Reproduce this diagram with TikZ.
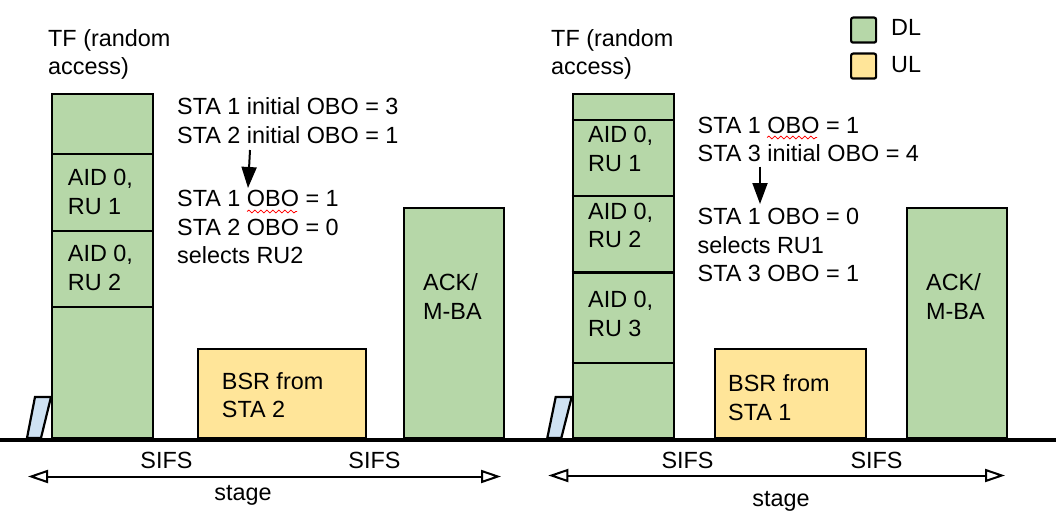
\documentclass[tikz,border=0pt]{standalone}
\usepackage{fontspec}
\setmainfont{Liberation Sans}
\usetikzlibrary{arrows.meta,decorations.pathmorphing}
\definecolor{dlgreen}{HTML}{B6D7A8}
\definecolor{ulyellow}{HTML}{FFE599}
\definecolor{tfblue}{HTML}{CFE2F3}

\begin{document}
\begin{tikzpicture}[x=1pt, y=-1pt,
	lbl/.style={font=\fontsize{23.4}{28.5}\selectfont, inner sep=0pt, align=left, anchor=base west},
	mid/.style={font=\fontsize{23.4}{28.5}\selectfont, inner sep=0pt, anchor=base},
	dlbox/.style={draw, line width=2.2pt, fill=dlgreen, inner sep=0pt, anchor=south west},
	ulbox/.style={draw, line width=2.2pt, fill=ulyellow, inner sep=0pt, anchor=south west},
	wavy/.style={red, line width=0.8pt, decorate, decoration={snake, amplitude=1.4pt, segment length=6pt}},
	stagearrow/.style={{Triangle[open,length=20pt,width=13pt]}-{Triangle[open,length=20pt,width=13pt]}, line width=2pt}]
	\useasboundingbox (0,0) rectangle (1062,516);
	% first stage (multi-line labels sit on the baseline of their last line)
	\draw[line width=2.2pt, fill=tfblue] (27,438) -- (35,397) -- (51,397) -- (41,438) -- cycle;
	\node[dlbox, minimum width=101pt, minimum height=344pt] (tfa) at (51,439) {};
	\foreach \y in {154,231,307}
		\draw[line width=2.2pt] (tfa.west |- 0,\y) -- (tfa.east |- 0,\y);
	\node[lbl] (tftxta) at (48,75) {TF (random\\access)};
	\node[lbl] (rua1) at (67.7,214) {AID 0,\\RU 1};
	\node[lbl] (rua2) at (67.7,290) {AID 0,\\RU 2};
	\node[ulbox, minimum width=168pt, minimum height=89pt] (bsra) at (197,439) {};
	\node[lbl] (bsrtxta) at (221.7,417.5) {BSR from\\STA 2};
	\node[dlbox, minimum width=100pt, minimum height=230pt] (acka) at (403,439) {};
	\node[lbl] (acktxta) at (423,319) {ACK/\\M-BA};
	\node[lbl] (oboa1) at (177,143.5) {STA 1 initial OBO = 3\\STA 2 initial OBO = 1};
	\node[lbl] (oboa2) at (177,263.5) {STA 1 OBO = 1\\STA 2 OBO = 0\\selects RU2};
	\draw[wavy] (247,211.5) -- (297,211.5);
	\coordinate (arra1) at (250,150);
	\coordinate (arra2) at (248,188);
	\draw[-{Triangle[length=21pt,width=15pt]}, line width=2pt] (arra1) -- (arra2);
	\node[mid] (sifsa1) at (166.5,468.5) {SIFS};
	\node[mid] (sifsa2) at (374.5,468.5) {SIFS};
	\coordinate (stga1) at (28,476.5);
	\coordinate (stga2) at (501,476.5);
	\draw[stagearrow] (stga1) -- (stga2);
	\node[mid] (stgtxta) at (243,500) {stage};
	% second stage
	\draw[line width=2.2pt, fill=tfblue] (547.3,438) -- (555.7,397) -- (571.7,397) -- (561.3,438) -- cycle;
	\node[dlbox, minimum width=101pt, minimum height=344pt] (tfb) at (571.7,439) {};
	\foreach \y in {120,196,272.5,363}
		\draw[line width=2.2pt] (tfb.west |- 0,\y) -- (tfb.east |- 0,\y);
	\node[lbl] (tftxtb) at (551,75) {TF (random\\access)};
	\node[lbl] (rub1) at (588,171) {AID 0,\\RU 1};
	\node[lbl] (rub2) at (588,247.5) {AID 0,\\RU 2};
	\node[lbl] (rub3) at (588,336) {AID 0,\\RU 3};
	\node[ulbox, minimum width=151pt, minimum height=89pt] (bsrb) at (713.5,439) {};
	\node[lbl] (bsrtxtb) at (728,420) {BSR from\\STA 1};
	\node[dlbox, minimum width=100pt, minimum height=230pt] (ackb) at (905.5,439) {};
	\node[lbl] (acktxtb) at (926,319) {ACK/\\M-BA};
	\node[lbl] (obob1) at (697.5,161.7) {STA 1 OBO = 1\\STA 3 initial OBO = 4};
	\node[lbl] (obob2) at (697.5,281.7) {STA 1 OBO = 0\\selects RU1\\STA 3 OBO = 1};
	\draw[wavy] (767,137.5) -- (817,137.5);
	\coordinate (arrb1) at (760,166.7);
	\coordinate (arrb2) at (760,204);
	\draw[-{Triangle[length=21pt,width=15pt]}, line width=2pt] (arrb1) -- (arrb2);
	\node[mid] (sifsb1) at (687.5,468.5) {SIFS};
	\node[mid] (sifsb2) at (876.5,468.5) {SIFS};
	\coordinate (stgb1) at (548.3,475.5);
	\coordinate (stgb2) at (1005,475.5);
	\draw[stagearrow] (stgb1) -- (stgb2);
	\node[mid] (stgtxtb) at (781,506) {stage};
	% time axis
	\draw[line width=4.5pt] (0,440) -- (1056,440);
	% legend
	\node[dlbox, minimum size=25pt, rounded corners=2pt, anchor=north west] (dlkey) at (850,16.5) {};
	\node[lbl] (dltxt) at (891,36) {DL};
	\node[ulbox, minimum size=25pt, rounded corners=2pt, anchor=north west] (ulkey) at (850,52.5) {};
	\node[lbl] (ultxt) at (891,72.7) {UL};
\end{tikzpicture}
\end{document}
